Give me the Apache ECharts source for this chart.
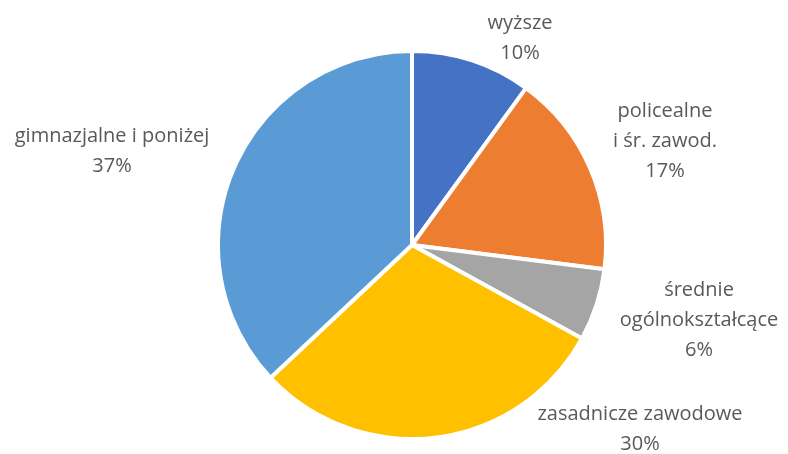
<!DOCTYPE html>
<html>
<head>
<meta charset="utf-8">
<script src="https://cdn.jsdelivr.net/npm/echarts@6/dist/echarts.min.js"></script>
<style>
  html, body { margin: 0; padding: 0; background: #fff; }
  #chart { width: 788px; height: 454px; }
</style>
</head>
<body>
<div id="chart"></div>
<script>
'use strict';
// kategorie i udziały (%)
var categories = ['wyższe', 'policealne\ni śr. zawod.', 'średnie\nogólnokształcące', 'zasadnicze zawodowe', 'gimnazjalne i poniżej'];
var shares = [10, 17, 6, 30, 37];
var colors = ['#4472C4', '#ED7D31', '#A5A5A5', '#FFC000', '#5B9BD5'];
// środki etykiet (jak w Excelu)
var labelCenters = [[520, 38], [665, 141], [699, 320], [640, 429], [112, 151]];

var chart = echarts.init(document.getElementById('chart'));
var pieData = categories.map(function (name, i) {
  return { name: name, value: shares[i] };
});

chart.setOption({
  animation: false,
  color: colors,
  series: [{
    type: 'pie',
    center: [412, 245],
    radius: 194,
    startAngle: 90,
    clockwise: true,
    data: pieData,
    itemStyle: { borderColor: '#fff', borderWidth: 4 },
    label: {
      position: 'outside',
      formatter: '{b}\n{c}%',
      fontFamily: 'Open Sans',
      fontSize: 20,
      lineHeight: 30,
      color: '#595959',
      overflow: 'none'
    },
    labelLine: { show: false },
    labelLayout: function (p) {
      var c = labelCenters[p.dataIndex];
      return { x: c[0], y: c[1], align: 'center', verticalAlign: 'middle' };
    },
    emphasis: { disabled: true }
  }]
});
</script>
</body>
</html>
